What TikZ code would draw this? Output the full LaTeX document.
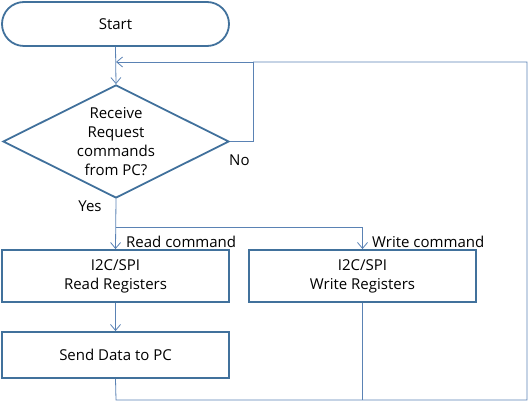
\documentclass[tikz,border=0pt]{standalone}
\usepackage{fontspec}
\setmainfont{Open Sans}
\usetikzlibrary{shapes.geometric,arrows.meta}
\definecolor{boxc}{HTML}{41719C}
\definecolor{linec}{HTML}{5A82B4}
\definecolor{lightc}{HTML}{9DB3CC}
\tikzset{
  shp/.style={draw=boxc, line width=1.8pt, fill=white, font=\fontsize{15}{19}\selectfont, align=center, inner sep=0pt},
  procbox/.style={shp, rectangle, minimum width=227pt, minimum height=52pt},
  conn/.style={draw=linec, line width=0.8pt},
  arr/.style={conn, -{Straight Barb[length=6pt,width=10pt]}},
  lbl/.style={font=\fontsize{15}{19}\selectfont, inner sep=0pt}
}
\begin{document}
\begin{tikzpicture}[x=1pt,y=-1pt]
\useasboundingbox (0,0) rectangle (530,403);
\node[shp, rounded corners=22pt, minimum width=227pt, minimum height=44pt] (start) at (115.5,24) {Start};
\node[shp, diamond, minimum width=226pt, minimum height=113pt, aspect=2] (dec) at (116,141.5) {};
\node[lbl, align=center] (dectxt) at (116,142) {Receive\\Request\\commands\\from PC?};
\node[procbox] (read) at (115.5,276) {I2C/SPI\\Read Registers};
\node[procbox] (write) at (362.5,276) {I2C/SPI\\Write Registers};
\node[procbox, minimum height=46pt] (send) at (115.5,355) {Send Data to PC};
\coordinate (join) at (116,62);
\coordinate (noc) at (253,141.5);
\coordinate (split) at (116,227);
\coordinate (bl) at (116,400);
\coordinate (br) at (527,400);
\coordinate (tr) at (527,62);
\draw[arr] (start.south) -- (dec.north);
\draw[arr] (dec.east) -- (noc) |- (join);
\draw[arr] (dec.south) -- (read.north);
\draw[arr] (split) -| (write.north);
\draw[arr] (read.south) -- (send.south |- send.north);
\draw[conn] (send.south) -- (bl) -- (br) -- (tr) -- (noc |- tr);
\draw[conn] (write.south) -- (write.south |- br);
\node[lbl, anchor=west] (no) at (229,160) {No};
\node[lbl] (yes) at (90,206) {Yes};
\node[lbl, anchor=west] (rc) at (126,242) {Read command};
\node[lbl, anchor=west] (wc) at (372,242) {Write command};
\end{tikzpicture}
\end{document}
